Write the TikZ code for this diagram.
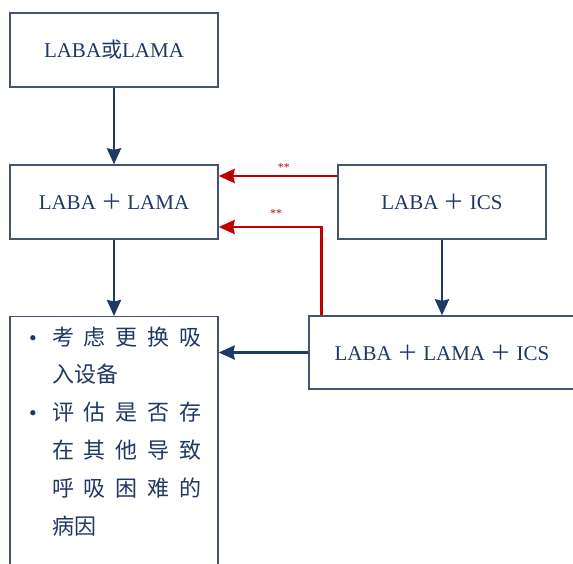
\documentclass[tikz,border=0pt]{standalone}
\usepackage{fontspec}
\setmainfont{Liberation Serif}
\newfontfamily\cjk{Noto Sans CJK SC}
\usetikzlibrary{positioning, arrows.meta}

\definecolor{navy}{RGB}{32,56,100}
\definecolor{slate}{RGB}{68,84,106}
\definecolor{alert}{RGB}{192,0,0}

% a full line of the list, stretched to the line width
\newcommand{\fullline}[1]{\makebox[150pt][s]{#1}}

\begin{document}
\begin{tikzpicture}[x=1pt,y=-1pt,->,>={Stealth[inset=1.5pt,length=16pt,width=14pt]},
  box/.style={draw=slate,line width=1.3pt,text=navy,inner sep=0pt,
    font=\fontsize{21}{25}\selectfont,minimum width=208pt,minimum height=74pt},
  link/.style={draw=navy,line width=2.8pt},
  hint/.style={draw=alert,line width=2.8pt},
  stars/.style={text=alert,font=\fontsize{12}{12}\selectfont,inner sep=1pt}]

\useasboundingbox (0,0) rectangle (573,563);

\node[box] (1) at (114,50) {LABA{\cjk 或}LAMA};
\node[box] (2) at (114,202) {LABA {\cjk ＋} LAMA};
\node[box] (3) at (442,202) {LABA {\cjk ＋} ICS};
\node[box,minimum width=266pt,minimum height=73pt] (4) at (442,352.5) {LABA {\cjk ＋} LAMA {\cjk ＋} ICS};
\node[box,anchor=north,inner xsep=17.5pt,inner ysep=10pt] (5) at (114,316)
  {\parbox[t][260pt][t]{173pt}{\cjk\fontsize{22}{37.8}\selectfont
    \makebox[24.5pt][l]{\hspace{1.5pt}\rmfamily\textbullet}\fullline{考\hfill 虑\hfill 更\hfill 换\hfill 吸}\\
    \hspace*{24.5pt}入设备\\
    \makebox[24.5pt][l]{\hspace{1.5pt}\rmfamily\textbullet}\fullline{评\hfill 估\hfill 是\hfill 否\hfill 存}\\
    \hspace*{24.5pt}\fullline{在\hfill 其\hfill 他\hfill 导\hfill 致}\\
    \hspace*{24.5pt}\fullline{呼\hfill 吸\hfill 困\hfill 难\hfill 的}\\
    \hspace*{24.5pt}病因}};

% main steps
\draw[link] (1) -- (2);
\draw[link] (2) -- (5);
\draw[link] (3) -- (4);
\draw[link] (4.west) -- (4.west -| 5.east);

% step back
\draw[hint] ([yshift=26pt]3.west) -- node[stars,above,pos=0.45,yshift=2pt] (s1) {**} ([yshift=26pt]2.east);
\draw[hint] ([xshift=13pt]4.north west) |- node[stars,above,pos=0.72,yshift=7pt] (s2) {**} ([yshift=-25pt]2.east);

\end{tikzpicture}
\end{document}
